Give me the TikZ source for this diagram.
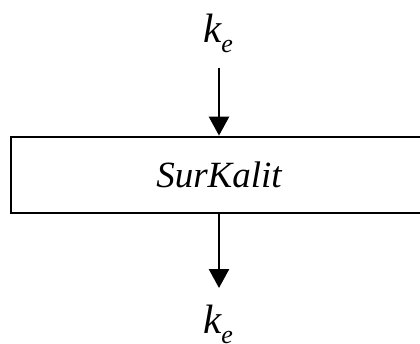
\documentclass[tikz,border=0pt]{standalone}
\usepackage{fontspec}
\setmainfont{Liberation Serif}
\usetikzlibrary{arrows.meta}
\tikzset{
  blk/.style={draw, line width=2.8pt, minimum width=429pt, minimum height=76pt, inner sep=0pt},
  arr/.style={line width=2.7pt, -{Triangle[length=19pt,width=20pt]}},
  lbl/.style={inner sep=0pt, font=\fontsize{37}{37}\selectfont\itshape},
  klbl/.style={inner sep=0pt, font=\fontsize{41}{41}\selectfont\itshape}
}
\newcommand{\kesub}{k\raisebox{-10pt}{\fontsize{26}{26}\selectfont e}}
\begin{document}
\begin{tikzpicture}[x=1pt,y=1pt]
\useasboundingbox (0,0) rectangle (420,343);
\clip (0,0) rectangle (420,343);
\node[blk] (box) at (225.5,168) {};
\node[lbl, anchor=base] (name) at (219,155) {SurKalit};
\node[klbl, anchor=base west] (kin) at (203,300) {\kesub};
\node[klbl, anchor=base west] (kout) at (203,10) {\kesub};
\coordinate (src) at (219,275);
\coordinate (dst) at (219,55);
\draw[arr] (src) -- (src |- box.north);
\draw[arr] (dst |- box.south) -- (dst);
\end{tikzpicture}
\end{document}
